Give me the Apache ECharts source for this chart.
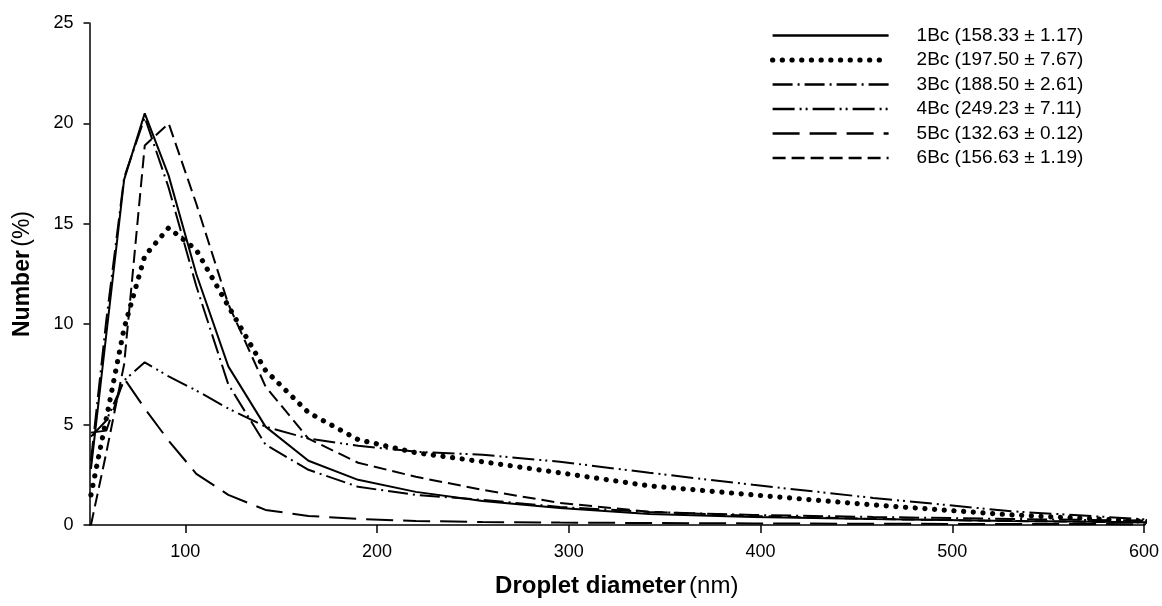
<!DOCTYPE html>
<html>
<head>
<meta charset="utf-8">
<script src="https://cdn.jsdelivr.net/npm/echarts@6/dist/echarts.min.js"></script>
<style>
html,body{margin:0;padding:0;background:#fff;}
#chart{width:1162px;height:606px;}
</style>
</head>
<body>
<div id="chart"></div>
<script>
const diameters = [50.75, 58.77, 68.06, 78.82, 91.28, 105.7, 122.4, 141.8, 164.2, 190.1, 220.2, 255.0, 295.3, 342.0, 396.1, 458.7, 531.2, 615.1];
const s1Bc = [2.8, 9.5, 17.2, 20.5, 17.4, 12.5, 7.9, 4.9, 3.2, 2.25, 1.65, 1.2, 0.85, 0.55, 0.4, 0.3, 0.2, 0.12];
const s2Bc = [1.5, 5.3, 9.8, 13.4, 14.8, 13.7, 10.9, 7.7, 5.6, 4.25, 3.6, 3.15, 2.6, 1.95, 1.5, 1.0, 0.5, 0.12];
const s3Bc = [3.2, 10.2, 17.3, 20.3, 16.8, 11.9, 7.0, 4.0, 2.75, 1.9, 1.5, 1.25, 0.9, 0.65, 0.5, 0.4, 0.3, 0.2];
const s4Bc = [4.4, 5.2, 7.2, 8.1, 7.4, 6.7, 5.8, 4.9, 4.3, 3.95, 3.65, 3.5, 3.15, 2.6, 2.0, 1.35, 0.68, 0.2];
const s5Bc = [4.6, 4.7, 7.3, 5.8, 4.2, 2.55, 1.5, 0.75, 0.45, 0.3, 0.2, 0.15, 0.12, 0.1, 0.08, 0.06, 0.05, 0.04];
const s6Bc = [0, 3.6, 8.0, 18.9, 20.0, 16.0, 11.0, 6.9, 4.3, 3.1, 2.4, 1.75, 1.1, 0.66, 0.45, 0.3, 0.2, 0.12];
const seriesNames = ['1Bc (158.33 ± 1.17)', '2Bc (197.50 ± 7.67)', '3Bc (188.50 ± 2.61)', '4Bc (249.23 ± 7.11)', '5Bc (132.63 ± 0.12)', '6Bc (156.63 ± 1.19)'];
const xTicks = [100, 200, 300, 400, 500, 600];
const yTicks = [0, 5, 10, 15, 20, 25];

const allValues = [s1Bc, s2Bc, s3Bc, s4Bc, s5Bc, s6Bc];
const styles = [
  {type: 'solid', width: 2},
  {type: [0.1, 9.6], width: 5.2, cap: 'round'},
  {type: [20, 5, 2, 5], width: 2},
  {type: [22, 5, 2, 4, 2, 5], width: 2},
  {type: [27, 10], width: 2},
  {type: [13, 6], width: 2}
];
const FONT = '"Liberation Sans", Arial, sans-serif';

const chart = echarts.init(document.getElementById('chart'), null, {renderer: 'canvas'});
chart.setOption({
  animation: false,
  backgroundColor: '#fff',
  grid: {left: 89.5, right: 17, top: 23, bottom: 81, containLabel: false},
  legend: {
    orient: 'vertical', left: 765, top: 21,
    itemWidth: 116, itemHeight: 14, itemGap: 5.5,
    textStyle: {fontSize: 19, fontFamily: FONT, color: '#000', padding: [0, 0, 0, 23]},
    data: seriesNames.map((n, i) => ({
      name: n,
      itemStyle: {color: 'rgba(0,0,0,0)', borderWidth: 0, borderColor: 'rgba(0,0,0,0)'},
      lineStyle: Object.assign({color: '#000'}, styles[i], i === 1 ? {} : {width: 2.5})
    }))
  },
  xAxis: {
    type: 'value', min: 50, max: 600,
    name: '{b|Droplet diameter} {n|(nm)}',
    nameLocation: 'middle', nameGap: 49,
    nameTextStyle: {rich: {b: {fontWeight: 'bold', fontSize: 24, fontFamily: FONT, color: '#000'}, n: {fontSize: 24, fontFamily: FONT, color: '#000'}}},
    axisLine: {lineStyle: {color: '#000', width: 1.5}},
    axisTick: {customValues: xTicks, length: 8, lineStyle: {color: '#000', width: 1.5}},
    axisLabel: {customValues: xTicks, fontSize: 18, fontFamily: FONT, color: '#000', margin: 18},
    splitLine: {show: false}
  },
  yAxis: {
    type: 'value', min: 0, max: 25, interval: 5,
    name: '{b|Number} {n|(%)}',
    nameLocation: 'middle', nameGap: 55, nameRotate: 90,
    nameTextStyle: {rich: {b: {fontWeight: 'bold', fontSize: 23, fontFamily: FONT, color: '#000'}, n: {fontSize: 23, fontFamily: FONT, color: '#000'}}},
    axisLine: {show: true, lineStyle: {color: '#000', width: 1.5}},
    axisTick: {show: true, length: 6, lineStyle: {color: '#000', width: 1.5}},
    axisLabel: {fontSize: 18, fontFamily: FONT, color: '#000', margin: 16},
    splitLine: {show: false}
  },
  series: seriesNames.map((name, i) => ({
    name: name,
    type: 'line',
    symbol: 'none',
    showSymbol: false,
    clip: true,
    data: diameters.map((d, j) => [d, allValues[i][j]]),
    lineStyle: Object.assign({color: '#000'}, styles[i]),
    itemStyle: {color: '#000'}
  }))
});
</script>
</body>
</html>
